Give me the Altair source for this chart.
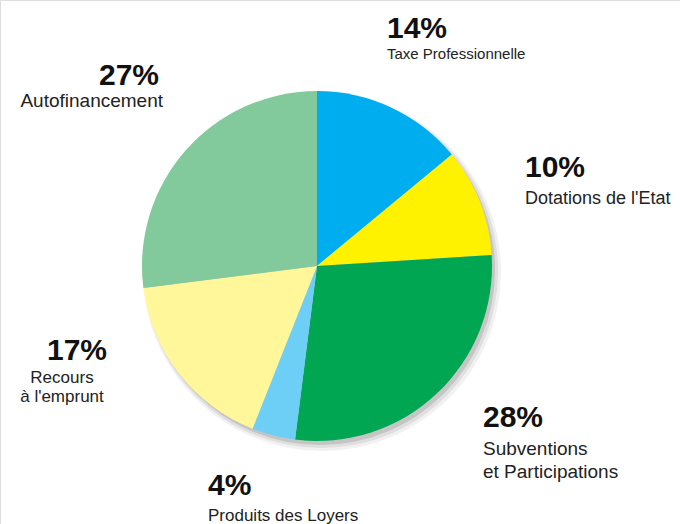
import altair as alt
import pandas as pd

# ---- data ----
categories = ["Taxe Professionnelle", "Dotations de l'Etat", "Subventions et Participations",
              "Produits des Loyers", "Recours à l'emprunt", "Autofinancement"]
values = [14, 10, 28, 4, 17, 27]
label_text = ["Taxe Professionnelle", "Dotations de l'Etat", "Subventions\net Participations",
              "Produits des Loyers", "Recours\nà l'emprunt", "Autofinancement"]

# ---- styles / layout (kept apart from the data) ----
colors = ["#00aeef", "#fff200", "#00a651", "#6dcff6", "#fff799", "#82ca9c"]
W, H = 680, 524
CX, CY, R = 317, 266, 175
# percentage anchors: x, baseline y, align
pct_layout = [(387, 38, "left"), (525, 177, "left"), (483, 427, "left"),
              (208, 495, "left"), (107, 360, "right"), (159, 85, "right")]
# label anchors: x, baseline y, align, font size, line height
lab_layout = [(387, 59, "left", 15, 20), (525, 204, "left", 18, 20), (483, 455, "left", 19, 23),
              (208, 521, "left", 17, 20), (62, 383, "center", 17, 19), (163, 107, "right", 19, 20)]

df = pd.DataFrame({"cat": categories, "value": values, "idx": list(range(len(values)))})
one = pd.DataFrame({"k": [0]})

shadow_layers = []
for off, rad, op in [(5, R + 4, 0.10), (4, R + 2, 0.15), (3, R, 0.25)]:
    shadow_layers.append(
        alt.Chart(one).mark_arc(color="#777777", opacity=op, outerRadius=rad, theta=0, theta2=6.2832)
        .encode(x=alt.value(CX + off), y=alt.value(CY + off + 1))
    )

pie = alt.Chart(df).mark_arc(outerRadius=R, stroke=None).encode(
    theta=alt.Theta("value:Q", stack=True),
    order=alt.Order("idx:Q"),
    color=alt.Color("cat:N", scale=alt.Scale(domain=categories, range=colors), legend=None),
    x=alt.value(CX),
    y=alt.value(CY),
)

text_layers = []
for i in range(len(values)):
    px, py, pal = pct_layout[i]
    text_layers.append(
        alt.Chart(df[df.idx == i]).transform_calculate(t="datum.value + '%'")
        .mark_text(font="Liberation Sans", fontWeight="bold", fontSize=30, color="#111111",
                   align=pal, baseline="alphabetic")
        .encode(text="t:N", x=alt.value(px), y=alt.value(py))
    )
    lx, ly, lal, fs, lh = lab_layout[i]
    text_layers.append(
        alt.Chart(pd.DataFrame({"lab": [label_text[i]]}))
        .mark_text(font="Liberation Sans", fontSize=fs, color="#222222", align=lal,
                   baseline="alphabetic", lineBreak="\n", lineHeight=lh)
        .encode(text="lab:N", x=alt.value(lx), y=alt.value(ly))
    )

chart = alt.layer(*shadow_layers, pie, *text_layers).properties(
    width=W, height=H, padding=0, autosize=alt.AutoSizeParams(type="none")
).configure_view(stroke=None).configure(background="white")

chart.save("out.html", embed_options={"renderer": "svg", "actions": False})
